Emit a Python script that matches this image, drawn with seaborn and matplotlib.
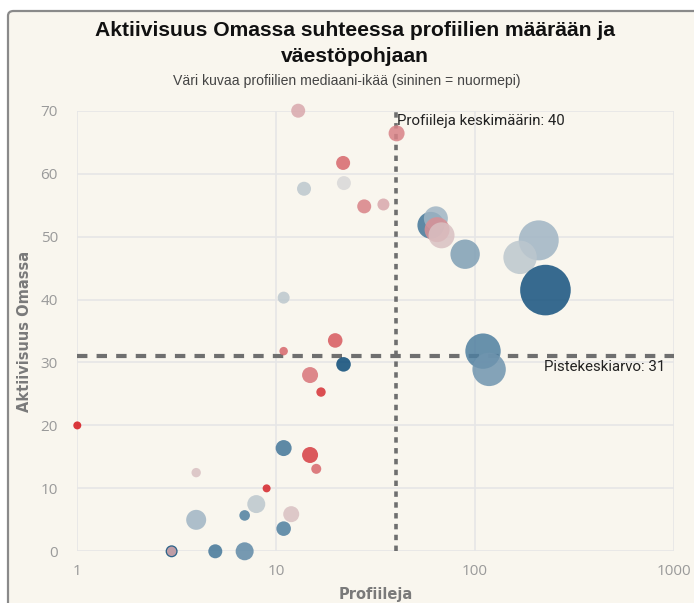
import numpy as np
import pandas as pd
import matplotlib
matplotlib.use("Agg")
import matplotlib.pyplot as plt
from matplotlib.colors import LinearSegmentedColormap
from matplotlib.patches import FancyBboxPatch
import seaborn as sns

# ---- data ----
profiileja = [12.9, 40.3, 21.7, 13.8, 21.9, 27.7, 34.6,
              59.9, 63.5, 64.4, 67.8, 89.1, 208.9, 168.3, 225.8,
              109.6, 117.6,
              19.8, 10.9, 21.8, 14.8, 16.8, 10.9, 14.8, 15.9,
              1.0, 3.96, 8.95, 7.94, 3.96, 6.94, 11.9, 10.9,
              2.98, 2.98, 4.94, 6.94, 10.9]
aktiivisuus = [70.0, 66.4, 61.7, 57.6, 58.5, 54.8, 55.1,
               51.8, 52.9, 51.1, 50.2, 47.2, 49.4, 46.7, 41.5,
               31.8, 28.9,
               33.5, 31.8, 29.7, 28.0, 25.3, 16.4, 15.3, 13.1,
               20.0, 12.5, 10.0, 7.5, 5.0, 5.7, 5.9, 3.6,
               0.0, 0.0, 0.0, 0.0, 40.3]
mediaani_ika = [49, 52, 54, 43, 45, 52, 49,
                35, 41, 51, 47, 39, 41, 43, 31,
                36, 38,
                55, 54, 30, 53, 58, 35, 57, 54,
                60, 47, 59, 43, 41, 36, 47, 36,
                30, 49, 35, 37, 43]
vaestopohja = [49, 64, 49, 49, 49, 49, 36,
               180, 144, 156, 169, 216, 400, 279, 640,
               313, 279,
               53, 18, 53, 64, 22, 64, 64, 25,
               16, 22, 16, 81, 100, 28, 64, 53,
               36, 22, 49, 81, 36]

keskiarvo_profiilit = 40
keskiarvo_pisteet = 31

x_ticks = [1, 10, 100, 1000]
y_ticks = [0, 10, 20, 30, 40, 50, 60, 70]

df = pd.DataFrame({"Profiileja": profiileja,
                   "Aktiivisuus": aktiivisuus,
                   "Ika": mediaani_ika,
                   "Vaesto": vaestopohja})

W, H = 694, 603
fig = plt.figure(figsize=(W / 100, H / 100), dpi=100, facecolor="white")

# card background
card = FancyBboxPatch((8 / W, -0.05), (W + 20) / W, (H - 11) / H + 0.05,
                      boxstyle="round,pad=0,rounding_size=0.008",
                      transform=fig.transFigure, facecolor="#f9f6ee",
                      edgecolor="#8a8a8a", linewidth=1.6, zorder=-10)
fig.patches.append(card)

ax = fig.add_axes([77.3 / W, 1 - 551.3 / H, (674 - 77.3) / W, (551.3 - 110.7) / H])
ax.set_zorder(1)
ax.patch.set_visible(False)

cmap = LinearSegmentedColormap.from_list(
    "ika", [(0.0, "#0a4a78"), (0.2, "#4f7fa0"), (0.37, "#a3b7c5"), (0.5, "#d9d9d9"),
            (0.67, "#d99ca1"), (1.0, "#d5161b")])

smin, smax = min(vaestopohja), max(vaestopohja)
k = (1.44) ** 2
sns.scatterplot(data=df, x="Profiileja", y="Aktiivisuus", hue="Ika",
                size="Vaesto", sizes=(k * smin, k * smax), size_norm=(smin, smax),
                palette=cmap, hue_norm=(30, 60), alpha=0.85, linewidth=0,
                legend=False, ax=ax, clip_on=False, zorder=3)

ax.set_xscale("log")
ax.set_xlim(1, 1000)
ax.set_ylim(0, 70)
ax.set_xticks(x_ticks)
ax.set_xticklabels([str(t) for t in x_ticks])
ax.xaxis.set_minor_locator(matplotlib.ticker.NullLocator())
ax.set_yticks(y_ticks)
ax.grid(True, color="#e6e6e6", linewidth=1.2, zorder=0)
ax.set_axisbelow(True)
for s in ax.spines.values():
    s.set_visible(False)
ax.tick_params(length=0, labelsize=11, labelcolor="#9a9a9a")
ax.tick_params(axis="x", pad=9)
ax.tick_params(axis="y", pad=14)
for lab in ax.get_xticklabels() + ax.get_yticklabels():
    lab.set_family("Open Sans")

# average lines
ax.axvline(keskiarvo_profiilit, color="#6f6f6f", linewidth=2.6,
           linestyle=(0, (1.5, 1.5)), zorder=2)
ax.axhline(keskiarvo_pisteet, color="#6f6f6f", linewidth=3.0,
           linestyle=(0, (2.5, 2.2)), zorder=2)
ax.text(keskiarvo_profiilit * 1.01, 68.3, "Profiileja keskimäärin: 40",
        fontsize=10.8, color="#222222", family="Roboto", va="center", ha="left")
ax.text(0.985, 29.3, "Pistekeskiarvo: 31", transform=ax.get_yaxis_transform(),
        fontsize=10.8, color="#222222", family="Roboto", va="center", ha="right")

ax.set_xlabel("Profiileja", fontsize=10.5, fontweight="bold", color="#7a7a7a",
              family="DejaVu Sans", labelpad=6)
ax.set_ylabel("Aktiivisuus Omassa", fontsize=10.5, fontweight="bold", color="#7a7a7a",
              family="DejaVu Sans", labelpad=6)

fig.text(355 / W, 1 - 30 / H, "Aktiivisuus Omassa suhteessa profiilien määrään ja",
         ha="center", va="center", fontsize=15.2, fontweight="bold",
         family="Liberation Sans", color="#111111")
fig.text(355 / W, 1 - 57 / H, "väestöpohjaan",
         ha="center", va="center", fontsize=15.2, fontweight="bold",
         family="Liberation Sans", color="#111111")
fig.text(347 / W, 1 - 81 / H, "Väri kuvaa profiilien mediaani-ikää (sininen = nuormepi)",
         ha="center", va="center", fontsize=10.1, family="Liberation Sans",
         color="#444444")

fig.savefig("out.png", dpi=100, facecolor="white")
